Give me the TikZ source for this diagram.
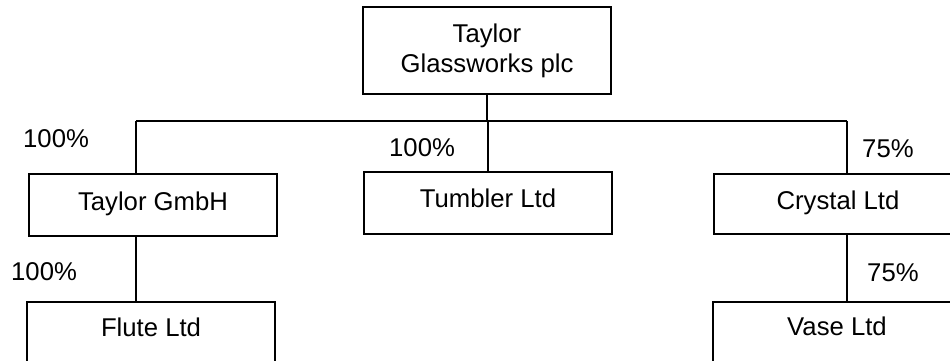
\documentclass[tikz,border=0pt]{standalone}
\usepackage{fontspec}
\setmainfont{Liberation Sans}
\begin{document}
\begin{tikzpicture}[x=1pt,y=-1pt,
  every node/.style={font=\fontsize{25.7}{30}\selectfont},
  box/.style={draw, line width=1.8pt, inner sep=0pt, minimum width=248pt},
  pct/.style={anchor=base west, inner sep=0pt},
  link/.style={line width=1.8pt}]
\clip (0,0) rectangle (950,361);
\fill[white] (0,0) rectangle (950,361);
% boxes
\node[box, minimum height=87pt, align=center] (top) at (487,50.5) {Taylor\\Glassworks plc};
\node[box, anchor=north, text height=37pt, text depth=25pt] (gmbh) at (153,173) {Taylor GmbH};
\node[box, anchor=north, text height=36pt, text depth=26pt] (tumbler) at (488,171) {Tumbler Ltd};
\node[box, anchor=north, text height=36pt, text depth=24pt] (crystal) at (838,173) {Crystal Ltd};
\node[box, anchor=north, text height=35pt, text depth=30pt] (flute) at (151,301) {Flute Ltd};
\node[box, anchor=north, text height=34pt, text depth=30pt] (vase) at (837,301) {Vase Ltd};
% bus
\coordinate (bl) at (136,121);
\coordinate (br) at (847,121);
\draw[link] (top.south) -- (top.south |- bl);
\draw[link] (bl) -- (br);
\draw[link] (bl) -- (bl |- gmbh.north);
\draw[link] (tumbler.north |- bl) -- (tumbler.north);
\draw[link] (br) -- (br |- crystal.north);
\draw[link] (bl |- gmbh.south) -- (bl |- flute.north);
\draw[link] (br |- crystal.south) -- (br |- vase.north);
% percentages
\node[pct] (p1) at (23,147) {100\%};
\node[pct] (p2) at (389,156) {100\%};
\node[pct] (p3) at (862,157) {75\%};
\node[pct] (p4) at (11,280) {100\%};
\node[pct] (p5) at (867,281) {75\%};
\end{tikzpicture}
\end{document}
